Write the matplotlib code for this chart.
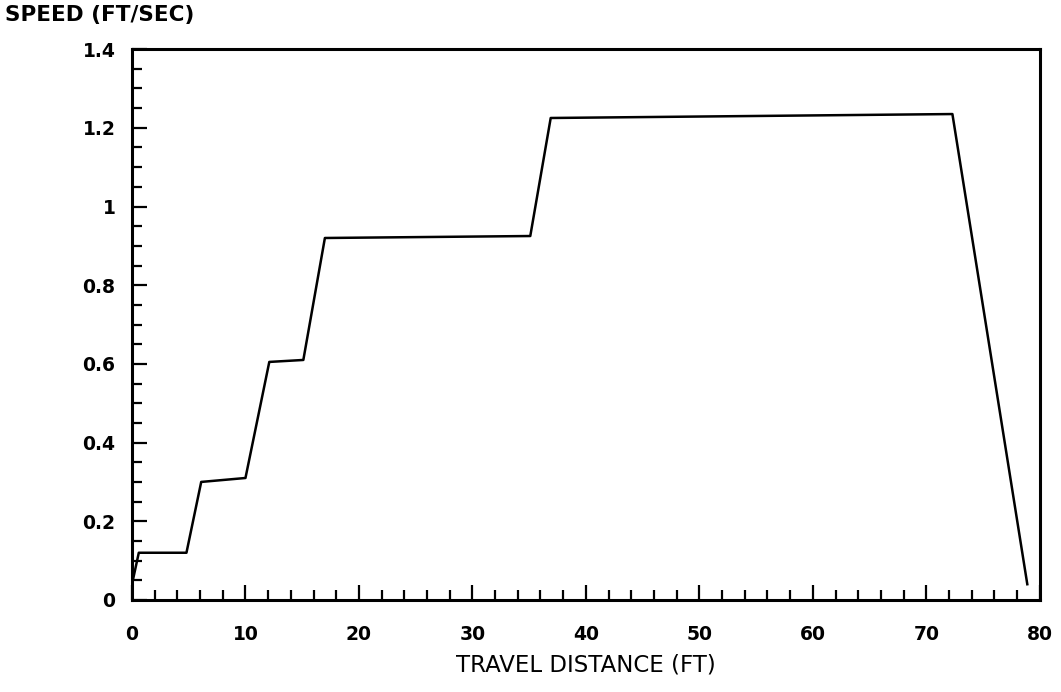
import matplotlib
matplotlib.use('Agg')
import matplotlib.pyplot as plt
from matplotlib.ticker import MultipleLocator, FuncFormatter

# travel distance (ft) and speed (ft/sec)
distance = [0, 0.6, 4.8, 6.1, 10.0, 12.1, 15.1, 17.0, 35.1, 36.9, 72.3, 78.9]
speed = [0.04, 0.12, 0.12, 0.30, 0.31, 0.605, 0.61, 0.92, 0.925, 1.225, 1.235, 0.04]

x_ticks = [0, 10, 20, 30, 40, 50, 60, 70, 80]
y_ticks = [0, 0.2, 0.4, 0.6, 0.8, 1.0, 1.2, 1.4]

plt.rcParams['font.family'] = 'DejaVu Sans'

fig = plt.figure(figsize=(10.61, 6.92), dpi=100)
ax = fig.add_axes([0.1244, 0.133, 0.8556, 0.796])

ax.plot(distance, speed, color='black', linewidth=1.8)

ax.set_xlim(0, 80)
ax.set_ylim(0, 1.4)
ax.set_xticks(x_ticks)
ax.set_yticks(y_ticks)
ax.xaxis.set_minor_locator(MultipleLocator(2))
ax.yaxis.set_minor_locator(MultipleLocator(0.05))
ax.yaxis.set_major_formatter(FuncFormatter(lambda v, p: '%g' % round(v, 2)))

for s in ax.spines.values():
    s.set_linewidth(2.2)

ax.tick_params(axis='both', which='both', direction='in', width=1.6,
               top=False, right=False)
ax.tick_params(axis='x', which='major', length=11, pad=18, labelsize=13.5)
ax.tick_params(axis='x', which='minor', length=7)
ax.tick_params(axis='y', which='major', length=11, pad=12, labelsize=13.5)
ax.tick_params(axis='y', which='minor', length=7)
for lab in ax.get_xticklabels() + ax.get_yticklabels():
    lab.set_fontweight('bold')

fig.text(0.005, 0.978, 'SPEED (FT/SEC)', fontsize=15.5, fontweight='bold',
         ha='left', va='center')
ax.set_xlabel('TRAVEL DISTANCE (FT)', fontsize=16.5, labelpad=7)

fig.savefig('out.png', dpi=100)
